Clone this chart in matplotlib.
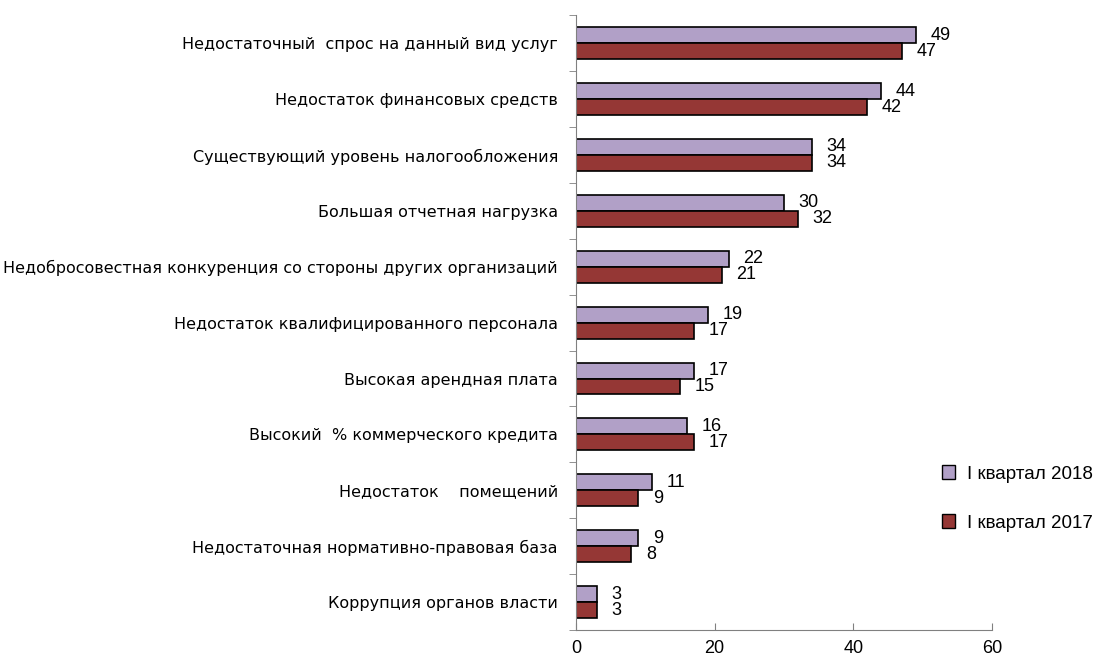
import matplotlib
matplotlib.use("Agg")
import matplotlib.pyplot as plt
import numpy as np
from matplotlib.patches import Patch

# данные с диаграммы
categories = [
    "Недостаточный  спрос на данный вид услуг",
    "Недостаток финансовых средств",
    "Существующий уровень налогообложения",
    "Большая отчетная нагрузка",
    "Недобросовестная конкуренция со стороны других организаций",
    "Недостаток квалифицированного персонала",
    "Высокая арендная плата",
    "Высокий  % коммерческого кредита",
    "Недостаток    помещений",
    "Недостаточная нормативно-правовая база",
    "Коррупция органов власти",
]
values_2018 = [49, 44, 34, 30, 22, 19, 17, 16, 11, 9, 3]
values_2017 = [47, 42, 34, 32, 21, 17, 15, 17, 9, 8, 3]
series_names = ["I квартал 2018", "I квартал 2017"]

plt.rcParams['font.family'] = ['Liberation Sans', 'DejaVu Sans']

fig = plt.figure(figsize=(11.07, 6.62), dpi=100)
ax = fig.add_axes([0.5203, 0.0483, 0.3758, 0.9287])

n = len(categories)
y = np.arange(n)
h = 0.285
c18 = "#b1a0c7"
c17 = "#953735"

bars18 = ax.barh(y - h / 2, values_2018, height=h, color=c18, edgecolor="black", linewidth=1.2)
bars17 = ax.barh(y + h / 2, values_2017, height=h, color=c17, edgecolor="black", linewidth=1.2)

# подписи значений
for b, v in zip(bars18, values_2018):
    ax.annotate(str(v), (v, b.get_y() + b.get_height() / 2), xytext=(10.5, 0),
                textcoords="offset points", ha="left", va="center", fontsize=13)
for b, v in zip(bars17, values_2017):
    ax.annotate(str(v), (v, b.get_y() + b.get_height() / 2), xytext=(10.5, 0),
                textcoords="offset points", ha="left", va="center", fontsize=13)

ax.set_ylim(n - 0.5, -0.5)
ax.set_xlim(0, 60)
ax.set_xticks([0, 20, 40, 60])
ax.tick_params(axis="x", direction="in", length=5, color="#808080", labelsize=13, pad=7)

ax.set_yticks(y)
ax.set_yticklabels(categories, fontsize=11.5, family="DejaVu Sans")
ax.set_yticks(np.arange(n + 1) - 0.5, minor=True)
ax.tick_params(axis="y", which="major", length=0, pad=13)
ax.tick_params(axis="y", which="minor", length=5, color="#808080")

for s in ["top", "right"]:
    ax.spines[s].set_visible(False)
for s in ["left", "bottom"]:
    ax.spines[s].set_color("#808080")

handles = [Patch(facecolor=c18, edgecolor="black"), Patch(facecolor=c17, edgecolor="black")]
fig.legend(handles, series_names, loc="center left", bbox_to_anchor=(0.836, 0.247),
           frameon=False, fontsize=13.5, handlelength=0.7, handleheight=0.7,
           labelspacing=1.7, handletextpad=0.6)

fig.savefig("out.png", dpi=100)
